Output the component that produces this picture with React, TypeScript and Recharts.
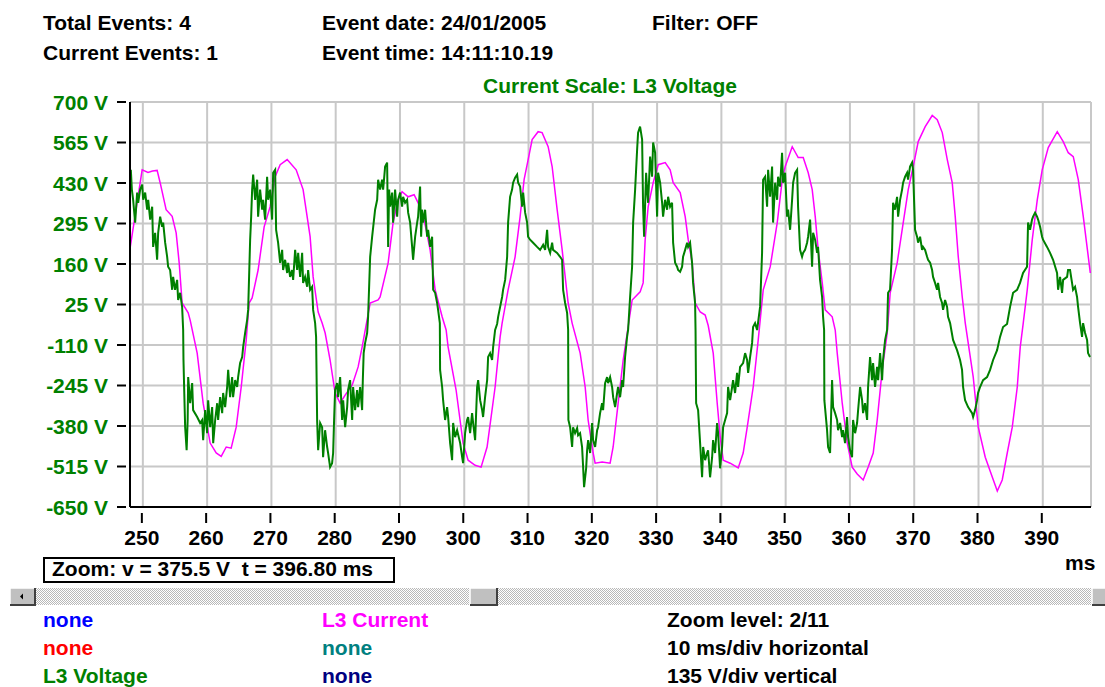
import React from "react";
import { LineChart, Line, XAxis, YAxis, CartesianGrid } from "recharts";

// time (ms) and value (V) samples of the two recorded channels
const l3Current: [number, number][] = [
  [248.02, 214], [249.89, 474], [250.8, 465], [251.5, 470], [252.22, 472], [252.69, 431],
  [253.62, 341], [254.56, 319], [255.18, 264], [255.65, 164], [256.11, 30], [257.05, -3],
  [257.36, -27], [258.45, -137], [259.38, -304], [260.47, -437], [261.41, -470], [262.19, -481],
  [262.97, -450], [263.74, -454], [264.52, -384], [265.3, -250], [266.08, -93], [266.53, 30],
  [267.0, 47], [267.93, 140], [268.87, 284], [269.8, 351], [270.58, 451], [271.36, 491],
  [272.45, 508], [273.85, 474], [274.93, 408], [276.02, 251], [276.49, 117], [277.27, 0],
  [277.89, -37], [278.36, -70], [279.13, -160], [279.91, -270], [280.69, -304], [281.47, -277],
  [282.56, -244], [283.49, -183], [284.11, -117], [285.36, 30], [286.6, 40], [286.91, 50],
  [288.16, 164], [288.93, 298], [289.71, 374], [290.33, 401], [291.27, 384], [292.2, 391],
  [292.82, 364], [293.76, 307], [294.69, 207], [295.47, 74], [296.56, -16], [297.18, -60],
  [297.49, -117], [298.73, -260], [299.82, -437], [300.6, -494], [301.69, -511], [302.62, -517],
  [303.55, -450], [304.8, -250], [305.58, -83], [305.89, -37], [306.82, 74], [307.91, 184],
  [308.69, 318], [309.31, 441], [309.94, 508], [310.56, 575], [311.49, 601], [312.11, 598],
  [313.05, 551], [313.67, 485], [314.45, 341], [315.23, 207], [316.16, 30], [316.78, -37],
  [318.03, -137], [318.81, -250], [319.27, -360], [320.05, -470], [320.36, -504], [321.45, -500],
  [322.69, -504], [323.16, -450], [323.94, -304], [324.72, -160], [325.49, -50], [326.12, 40],
  [327.36, 67], [327.83, 97], [328.14, 241], [328.61, 351], [329.39, 431], [330.17, 491],
  [331.26, 498], [332.03, 474], [332.5, 431], [333.59, 398], [334.37, 318], [334.84, 241],
  [335.46, 164], [335.93, 30], [336.71, 0], [337.48, -10], [337.95, -45], [338.73, -137],
  [339.35, -304], [339.82, -417], [340.28, -494], [341.37, -504], [342.62, -520], [343.39, -470],
  [344.02, -384], [344.95, -250], [345.73, -93], [346.51, 74], [347.6, 151], [348.69, 298],
  [349.47, 441], [349.93, 485], [351.02, 551], [351.95, 515], [352.73, 515], [353.51, 464],
  [354.13, 408], [354.6, 318], [355.06, 207], [355.69, 97], [356.15, 7], [357.24, -16],
  [357.71, -60], [358.02, -137], [358.8, -304], [359.58, -437], [360.35, -517], [361.13, -540],
  [362.06, -560], [362.84, -517], [363.62, -470], [364.24, -360], [365.02, -193], [365.8, -70],
  [366.26, 64], [367.35, 164], [368.29, 298], [369.07, 408], [369.84, 485], [370.62, 568],
  [371.71, 618], [372.8, 655], [373.58, 641], [374.36, 598], [375.14, 508], [375.91, 431],
  [376.38, 318], [376.85, 184], [377.47, 50], [377.94, -37], [379.18, -217], [379.96, -384],
  [381.05, -484], [382.14, -550], [382.92, -597], [383.69, -560], [384.47, -470], [385.25, -384],
  [386.03, -250], [386.49, -117], [386.96, -37], [387.58, 74], [388.36, 241], [389.14, 374],
  [389.91, 474], [390.85, 548], [392.25, 601], [393.18, 568], [393.96, 531], [394.74, 518],
  [395.52, 441], [396.3, 318], [397.08, 184], [397.39, 130],
];

const l3Voltage: [number, number][] = [
  [248.13, 474], [248.29, 408], [248.49, 374], [248.8, 298], [249.11, 398], [249.27, 364],
  [249.58, 408], [249.89, 425], [250.05, 374], [250.36, 398], [250.67, 341], [250.83, 374],
  [251.14, 308], [251.45, 351], [251.6, 217], [251.91, 264], [252.22, 174], [252.38, 264],
  [252.69, 318], [253.0, 284], [253.16, 298], [253.47, 231], [253.78, 184], [253.93, 151],
  [254.24, 140], [254.56, 74], [254.71, 117], [255.02, 74], [255.33, 107], [255.49, 40],
  [255.8, 64], [256.11, 17], [256.27, -60], [256.32, -160], [256.42, -250], [256.58, -384],
  [256.81, -461], [256.97, -360], [257.05, -217], [257.36, -304], [257.67, -237], [257.82, -327],
  [258.45, -350], [258.91, -370], [259.22, -360], [259.38, -427], [259.69, -327], [260.0, -404],
  [260.16, -294], [260.47, -384], [260.78, -317], [260.94, -437], [261.25, -360], [261.56, -304],
  [261.71, -360], [262.02, -284], [262.34, -337], [262.49, -270], [262.8, -317], [263.11, -250],
  [263.27, -193], [263.58, -284], [263.89, -217], [264.04, -284], [264.36, -227], [264.67, -250],
  [264.82, -217], [265.13, -170], [265.45, -150], [265.6, -117], [265.91, -70], [266.22, -27],
  [266.38, 7], [266.69, 241], [266.85, 318], [267.0, 408], [267.16, 458], [267.47, 374],
  [267.78, 441], [267.93, 318], [268.24, 408], [268.56, 341], [268.71, 374], [269.02, 308],
  [269.33, 451], [269.49, 374], [269.8, 408], [270.11, 308], [270.27, 464], [270.58, 474],
  [270.73, 274], [271.04, 231], [271.36, 164], [271.67, 207], [271.82, 140], [272.13, 174],
  [272.45, 130], [272.6, 164], [272.91, 117], [273.22, 140], [273.38, 107], [273.69, 207],
  [274.0, 140], [274.16, 197], [274.47, 117], [274.78, 197], [274.93, 97], [275.24, 117],
  [275.56, 84], [275.71, 140], [276.02, 74], [276.33, 84], [276.49, 7], [276.8, -37],
  [276.95, -83], [277.11, -360], [277.27, -461], [277.58, -370], [277.89, -384], [278.04, -484],
  [278.35, -394], [278.67, -450], [278.82, -470], [279.13, -517], [279.44, -504], [279.6, -470],
  [279.75, -360], [279.91, -260], [280.22, -237], [280.38, -284], [280.69, -217], [281.0, -360],
  [281.16, -294], [281.47, -384], [281.78, -317], [281.93, -260], [282.24, -227], [282.56, -360],
  [282.71, -250], [283.02, -327], [283.33, -260], [283.49, -317], [283.8, -250], [284.11, -327],
  [284.22, -227], [284.35, -137], [284.58, -103], [284.89, -70], [285.04, -16], [285.36, 184],
  [285.67, 251], [286.13, 341], [286.45, 374], [286.6, 441], [286.91, 408], [287.22, 441],
  [287.38, 408], [287.69, 485], [288.0, 498], [288.16, 217], [288.31, 408], [288.47, 351],
  [288.78, 398], [288.93, 298], [289.24, 408], [289.56, 318], [289.71, 374], [290.02, 398],
  [290.33, 351], [290.49, 384], [290.8, 364], [291.11, 374], [291.27, 331], [291.58, 298],
  [291.89, 217], [292.04, 174], [292.36, 251], [292.67, 298], [292.82, 318], [293.13, 418],
  [293.29, 251], [293.44, 341], [293.6, 298], [293.91, 341], [294.22, 251], [294.38, 274],
  [294.69, 217], [295.0, 251], [295.16, 74], [295.47, 64], [295.78, 30], [295.93, 7],
  [296.2, -37], [296.24, -193], [296.56, -250], [296.71, -294], [297.02, -360], [297.33, -317],
  [297.49, -350], [297.8, -437], [298.11, -494], [298.27, -370], [298.58, -417], [298.89, -394],
  [299.36, -437], [299.67, -484], [299.82, -504], [300.13, -404], [300.44, -360], [300.6, -350],
  [300.91, -404], [301.22, -337], [301.38, -370], [301.69, -427], [302.0, -250], [302.16, -227],
  [302.47, -294], [302.78, -327], [302.93, -350], [303.24, -284], [303.56, -227], [303.71, -150],
  [304.02, -137], [304.33, -160], [304.49, -117], [304.8, -60], [305.11, -40], [305.27, -16],
  [305.58, 17], [305.89, 50], [306.04, 74], [306.36, 107], [306.67, 184], [306.82, 298],
  [307.13, 384], [307.44, 408], [307.6, 431], [307.91, 448], [308.22, 458], [308.38, 431],
  [308.69, 418], [309.0, 351], [309.16, 398], [309.47, 331], [309.78, 298], [309.93, 251],
  [310.24, 241], [310.71, 231], [311.33, 217], [311.8, 207], [312.27, 224], [312.58, 207],
  [312.89, 274], [313.04, 217], [313.36, 197], [313.67, 231], [313.82, 207], [314.44, 197],
  [314.91, 184], [315.22, 174], [315.38, 74], [315.69, 30], [316.0, -3], [316.16, -60],
  [316.2, -360], [316.47, -384], [316.78, -450], [316.93, -384], [317.24, -404], [317.56, -387],
  [317.71, -411], [318.02, -404], [318.33, -450], [318.49, -517], [318.64, -584], [318.96, -521],
  [319.11, -461], [319.27, -427], [319.58, -470], [319.89, -370], [320.04, -427], [320.36, -450],
  [320.67, -394], [320.82, -384], [321.13, -337], [321.44, -304], [321.6, -327], [321.91, -237],
  [322.22, -217], [322.38, -237], [322.69, -217], [323.0, -250], [323.16, -284], [323.47, -317],
  [323.78, -270], [323.93, -250], [324.24, -284], [324.56, -227], [324.71, -250], [325.02, -150],
  [325.33, -83], [325.49, -60], [325.8, 50], [326.11, 151], [326.27, 298], [326.58, 408],
  [326.89, 541], [327.04, 598], [327.35, 618], [327.67, 575], [327.82, 351], [327.98, 251],
  [328.29, 464], [328.44, 408], [328.6, 364], [328.91, 518], [329.22, 451], [329.38, 565],
  [329.69, 531], [330.0, 318], [330.15, 464], [330.47, 431], [330.78, 364], [330.93, 318],
  [331.24, 374], [331.56, 341], [331.71, 384], [332.02, 351], [332.33, 364], [332.49, 231],
  [332.8, 164], [333.11, 151], [333.27, 140], [333.58, 134], [333.89, 151], [334.04, 184],
  [334.36, 207], [334.67, 231], [334.82, 217], [335.13, 231], [335.44, 164], [335.6, 97],
  [335.91, 30], [335.98, -60], [336.07, -304], [336.38, -327], [336.69, -437], [337.0, -551],
  [337.16, -450], [337.47, -494], [337.78, -470], [337.93, -461], [338.24, -551], [338.56, -484],
  [338.71, -427], [339.02, -470], [339.33, -370], [339.49, -404], [339.8, -521], [340.11, -450],
  [340.27, -384], [340.58, -360], [340.89, -337], [341.04, -250], [341.36, -294], [341.67, -250],
  [341.82, -227], [342.13, -270], [342.44, -203], [342.6, -250], [342.91, -183], [343.38, -170],
  [343.69, -137], [344.0, -160], [344.16, -203], [344.47, -150], [344.78, -103], [344.93, -50],
  [345.24, -37], [345.56, -60], [346.02, 17], [346.33, 197], [346.49, 441], [346.8, 451],
  [347.11, 351], [347.27, 474], [347.58, 384], [347.89, 485], [348.04, 298], [348.36, 431],
  [348.67, 374], [348.82, 451], [349.13, 418], [349.44, 531], [349.6, 431], [349.91, 464],
  [350.22, 318], [350.38, 341], [350.69, 274], [351.0, 374], [351.16, 431], [351.47, 464],
  [351.78, 474], [351.93, 351], [352.24, 207], [352.55, 184], [352.71, 197], [353.02, 207],
  [353.33, 231], [353.49, 251], [353.8, 308], [354.11, 151], [354.27, 264], [354.58, 241],
  [354.89, 197], [355.04, 217], [355.35, 107], [355.67, 50], [355.82, -16], [355.98, -60],
  [356.02, -294], [356.44, -394], [356.6, -450], [356.91, -470], [357.22, -227], [357.38, -317],
  [357.69, -337], [358.0, -360], [358.15, -394], [358.47, -370], [358.78, -417], [358.93, -394],
  [359.24, -437], [359.55, -350], [359.71, -417], [360.02, -461], [360.33, -484], [360.49, -360],
  [360.8, -404], [361.11, -370], [361.27, -327], [361.58, -250], [361.89, -294], [362.04, -337],
  [362.35, -304], [362.67, -360], [362.82, -250], [363.13, -150], [363.44, -227], [363.6, -170],
  [363.91, -250], [364.22, -183], [364.38, -227], [364.69, -137], [365.0, -227], [365.15, -160],
  [365.47, -93], [365.78, -60], [365.93, 64], [366.24, 74], [366.55, 207], [366.71, 364],
  [367.02, 341], [367.33, 384], [367.49, 318], [367.8, 374], [368.11, 408], [368.27, 431],
  [368.58, 451], [368.89, 464], [369.04, 441], [369.35, 485], [369.67, 498], [369.82, 474],
  [370.13, 274], [370.44, 251], [370.6, 231], [370.91, 251], [371.22, 207], [371.38, 217],
  [371.69, 207], [372.0, 184], [372.15, 174], [372.47, 164], [372.78, 140], [372.93, 117],
  [373.24, 97], [373.55, 74], [373.71, 97], [374.02, 50], [374.33, 30], [374.49, 7],
  [374.8, 40], [375.11, 17], [375.26, -16], [375.58, -37], [376.04, -93], [376.66, -127],
  [377.13, -160], [377.44, -193], [377.6, -250], [377.91, -294], [378.38, -317], [379.0, -337],
  [379.16, -350], [379.47, -327], [379.78, -294], [379.93, -270], [380.24, -250], [380.71, -227],
  [381.33, -217], [381.8, -193], [382.27, -160], [382.89, -127], [383.35, -83], [383.82, -50],
  [384.44, -40], [384.91, 17], [385.38, 64], [386.0, 74], [386.46, 97], [386.93, 130],
  [387.55, 151], [387.71, 298], [388.02, 274], [388.33, 308], [388.49, 318], [388.8, 331],
  [389.11, 318], [389.27, 308], [389.58, 284], [389.89, 251], [390.04, 241], [390.66, 217],
  [391.13, 197], [391.6, 174], [392.22, 130], [392.38, 74], [392.69, 117], [393.0, 64],
  [393.16, 107], [393.78, 117], [393.93, 140], [394.24, 140], [394.55, 97], [394.71, 74],
  [395.02, 84], [395.33, 50], [395.49, 17], [395.8, -37], [396.11, -83], [396.27, -37],
  [396.58, -70], [396.89, -93], [397.04, -137], [397.35, -150],
];

const timeTicks = [250, 260, 270, 280, 290, 300, 310, 320, 330, 340, 350, 360, 370, 380, 390];
const voltTicks = [-650, -515, -380, -245, -110, 25, 160, 295, 430, 565, 700];
const timeDomain: [number, number] = [248, 397.5];
const voltDomain: [number, number] = [-650, 700];

const headerRows = [
  ["Total Events: 4", "Event date: 24/01/2005", "Filter: OFF"],
  ["Current Events: 1", "Event time: 14:11:10.19"],
];
const channelNames = [
  ["none", "#0000ff"], ["none", "#ff0000"], ["L3 Voltage", "#008000"],
  ["L3 Current", "#ff00ff"], ["none", "#008080"], ["none", "#000080"],
];
const statusLines = ["Zoom level: 2/11", "10 ms/div horizontal", "135 V/div vertical"];
const zoomReadout = "Zoom: v = 375.5 V  t = 396.80 ms";

const FONT = "'Liberation Sans', Arial, sans-serif";
const GREEN = "#008000";

const toRows = (pts: [number, number][]) => pts.map(([t, v]) => ({ t, v }));
const currentRows = toRows(l3Current);
const voltageRows = toRows(l3Voltage);

const TimeTick = ({ x, y, payload }: any) => (
  <g>
    <line x1={x - 1} x2={x - 1} y1={y + 6} y2={y + 16} stroke="#000" strokeWidth={2} />
    <text x={x - 1} y={y + 38} textAnchor="middle" fontFamily={FONT} fontWeight={700} fontSize={21} fill="#000">
      {payload.value}
    </text>
  </g>
);

const VoltTick = ({ x, y, payload }: any) => (
  <g>
    <line x1={x - 13} x2={x - 4} y1={y} y2={y} stroke="#000" strokeWidth={2} />
    <text x={x - 22} y={y + 7.5} textAnchor="end" fontFamily={FONT} fontWeight={700} fontSize={21} fill={GREEN}>
      {`${payload.value} V`}
    </text>
  </g>
);

const txt = { fontFamily: FONT, fontWeight: 700, fontSize: 21 } as const;

export default function App() {
  return (
    <div style={{ position: "absolute", left: 0, top: 0, width: 1105, height: 687, background: "#fff", overflow: "hidden" }}>
      <LineChart
        width={1105}
        height={687}
        margin={{ top: 102, right: 14, bottom: 150, left: 0 }}
        style={{ position: "absolute", left: 0, top: 0 }}
      >
        <CartesianGrid stroke="#c8c8c8" strokeWidth={2} />
        <XAxis
          dataKey="t"
          type="number"
          domain={timeDomain}
          ticks={timeTicks}
          allowDataOverflow
          height={30}
          tickSize={0}
          tickMargin={0}
          tickLine={false}
          axisLine={{ stroke: "#000", strokeWidth: 2 }}
          tick={TimeTick}
        />
        <XAxis
          xAxisId="top"
          orientation="top"
          type="number"
          domain={timeDomain}
          height={0}
          tick={false}
          tickLine={false}
          axisLine={{ stroke: "#000", strokeWidth: 2 }}
        />
        <YAxis
          type="number"
          domain={voltDomain}
          ticks={voltTicks}
          allowDataOverflow
          width={130}
          tickSize={0}
          tickMargin={0}
          tickLine={false}
          axisLine={{ stroke: "#000", strokeWidth: 2 }}
          tick={VoltTick}
        />
        <YAxis
          yAxisId="right"
          orientation="right"
          type="number"
          domain={voltDomain}
          width={0}
          tick={false}
          tickLine={false}
          axisLine={{ stroke: "#000", strokeWidth: 2 }}
        />
        <Line
          data={currentRows}
          dataKey="v"
          type="linear"
          stroke="#ff00ff"
          strokeWidth={1.5}
          dot={false}
          activeDot={false}
          isAnimationActive={false}
        />
        <Line
          data={voltageRows}
          dataKey="v"
          type="linear"
          stroke={GREEN}
          strokeWidth={2}
          strokeLinejoin="miter"
          dot={false}
          activeDot={false}
          isAnimationActive={false}
        />
      </LineChart>

      <svg width={1105} height={687} style={{ position: "absolute", left: 0, top: 0, pointerEvents: "none" }}>
        <defs>
          <pattern id="track" width={2} height={2} patternUnits="userSpaceOnUse">
            <rect width={2} height={2} fill="#ffffff" />
            <rect width={1} height={1} fill="#b8b8b8" />
            <rect x={1} y={1} width={1} height={1} fill="#b8b8b8" />
          </pattern>
        </defs>

        {headerRows.map((row, r) =>
          row.map((s, c) => (
            <text key={`${r}-${c}`} x={[43, 322, 652][c]} y={30 + r * 30} {...txt} fill="#000">{s}</text>
          ))
        )}
        <text x={483} y={93} {...txt} fill={GREEN}>Current Scale: L3 Voltage</text>

        {/* zoom readout box */}
        <rect x={44} y={558} width={350} height={24} fill="#fff" stroke="#000" strokeWidth={2} />
        <text x={52} y={576} {...txt} fill="#000" style={{ whiteSpace: "pre" }}>{zoomReadout}</text>
        <text x={1065} y={570} {...txt} fill="#000">ms</text>

        {/* horizontal scroll bar */}
        <rect x={10} y={588} width={1095} height={17} fill="url(#track)" />
        {[[10, 25], [470, 27], [1092, 25]].map(([bx, bw], i) => (
          <g key={i}>
            <rect x={bx} y={588} width={bw} height={17} fill="#c0c0c0" />
            <path d={`M${bx} ${605} V588 H${bx + bw}`} stroke="#fff" strokeWidth={1.5} fill="none" />
            <path d={`M${bx} 605 H${bx + bw} V588`} stroke="#404040" strokeWidth={2} fill="none" />
          </g>
        ))}
        <path d="M20 596.5 L23 593.5 L23 599.5 Z" fill="#000" />

        {/* channel legend */}
        {channelNames.map(([name, color], i) => (
          <text key={i} x={i < 3 ? 43 : 322} y={627 + (i % 3) * 28} {...txt} fill={color}>{name}</text>
        ))}
        {statusLines.map((s, i) => (
          <text key={s} x={667} y={627 + i * 28} {...txt} fill="#000">{s}</text>
        ))}
      </svg>
    </div>
  );
}
